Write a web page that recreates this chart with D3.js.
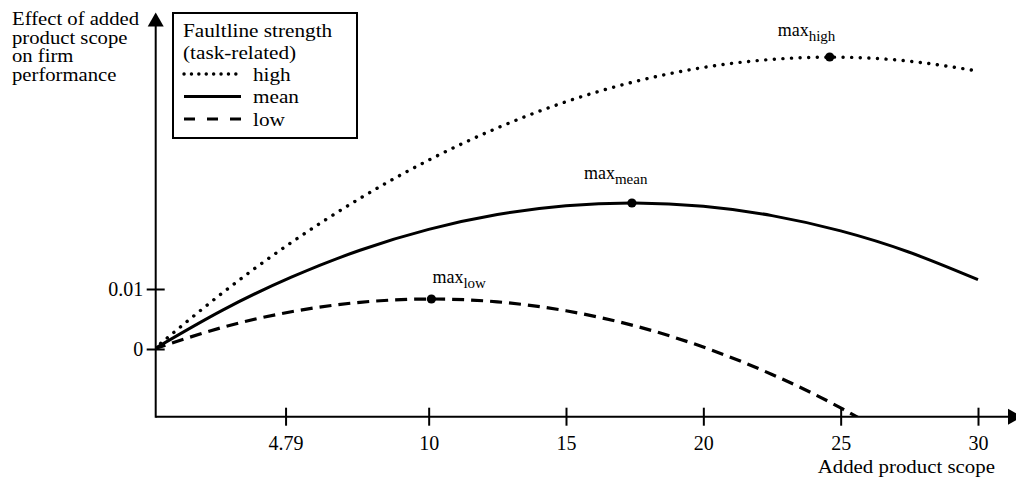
<!DOCTYPE html>
<html>
<head>
<meta charset="utf-8">
<script src="https://cdn.jsdelivr.net/npm/d3@7"></script>
<style>
  body { margin: 0; background: #fff; }
  svg { display: block; }
</style>
</head>
<body>
<svg id="chart" width="1016" height="481" font-family="Liberation Serif, Times New Roman, serif"></svg>
<script>
// values
let scope = [0, 2.5, 5, 7.5, 10, 12.5, 15, 17.5, 20, 22.5, 25, 27.5, 30];
let highY = [0, 0.00937, 0.01775, 0.02511, 0.03148, 0.03684, 0.04121, 0.04456, 0.04692, 0.04827, 0.04863, 0.04797, 0.04632];
let meanY = [0, 0.00649, 0.01197, 0.01646, 0.01993, 0.0224, 0.02387, 0.02433, 0.02378, 0.02223, 0.01968, 0.01612, 0.01155];
let lowY  = [0, 0.00361, 0.00621, 0.00778, 0.00833, 0.00786, 0.00637, 0.00386, 0.00032, -0.00424, -0.00981, -0.01641];
let levels = ["high", "mean", "low"];
let maxX = [24.6, 17.4, 10.1];
let maxY = [0.04867, 0.02433, 0.00833];
let xTicks = [4.79, 10, 15, 20, 25, 30];
let yTicks = [0, 0.01];

let serif = "Liberation Serif, Times New Roman, serif";
let styles = {
  high: {dash: "0.1,8.5", cap: "round", width: 3.4, legendDash: "0.1,7.3"},
  mean: {dash: null, cap: "butt", width: 3, legendDash: null},
  low:  {dash: "12,7", cap: "butt", width: 3.2, legendDash: "11,12"}
};
let labelOff = {high: [-52, -21], mean: [-48, -24], low: [1, -16]};

let svg = d3.select("#chart");
let x = d3.scaleLinear().domain([0, 30]).range([154, 978]);
let y = d3.scaleLinear().domain([0, 0.01]).range([349, 289]);
let axisY0 = 416.7, axisX0 = 155.7;

// clip so the low curve stops at the x axis
svg.append("clipPath").attr("id", "plot")
  .append("rect").attr("x", axisX0).attr("y", 0).attr("width", 900).attr("height", axisY0);

let series = {
  high: scope.map((s, i) => [s, highY[i]]),
  mean: scope.map((s, i) => [s, meanY[i]]),
  low: lowY.map((v, i) => [scope[i], v])
};

let line = d3.line().x(d => x(d[0])).y(d => y(d[1])).curve(d3.curveNatural);

let curves = svg.append("g").attr("clip-path", "url(#plot)");
levels.forEach(k => {
  curves.append("path")
    .attr("d", line(series[k]))
    .attr("fill", "none")
    .attr("stroke", "#000")
    .attr("stroke-width", styles[k].width)
    .attr("stroke-linecap", styles[k].cap)
    .attr("stroke-dasharray", styles[k].dash);
});

// axes
let xAxis = d3.axisBottom(x).tickValues(xTicks).tickSize(18).tickSizeOuter(0).tickFormat(d => d);
let gx = svg.append("g").attr("transform", `translate(0,${axisY0})`).call(xAxis);
gx.select(".domain").remove();
gx.selectAll(".tick line").attr("y1", -9).attr("y2", 9).attr("stroke-width", 2);
gx.selectAll(".tick text").attr("y", 33).attr("dy", 0)
  .attr("font-size", 20).attr("font-family", serif).attr("fill", "#000");

let yAxis = d3.axisLeft(y).tickValues(yTicks).tickSize(18).tickSizeOuter(0).tickFormat(d => d);
let gy = svg.append("g").attr("transform", `translate(${axisX0},0)`).call(yAxis);
gy.select(".domain").remove();
gy.selectAll(".tick line").attr("x1", -9).attr("x2", 9).attr("stroke-width", 2);
gy.selectAll(".tick text").attr("x", -12.5).attr("dy", "0.33em")
  .attr("font-size", 20).attr("font-family", serif).attr("fill", "#000");

svg.append("line").attr("x1", axisX0).attr("x2", 1009).attr("y1", axisY0).attr("y2", axisY0)
  .attr("stroke", "#000").attr("stroke-width", 2);
svg.append("line").attr("x1", axisX0).attr("x2", axisX0).attr("y1", axisY0 + 1).attr("y2", 25)
  .attr("stroke", "#000").attr("stroke-width", 2);
svg.append("path").attr("d", `M${axisX0},12.5 L${axisX0 - 8},26.5 L${axisX0 + 8},26.5 Z`);
svg.append("path").attr("d", `M1022,${axisY0} L1008,${axisY0 - 8} L1008,${axisY0 + 8} Z`);

// maxima
levels.forEach((k, i) => {
  let px = x(maxX[i]), py = y(maxY[i]);
  svg.append("circle").attr("cx", px).attr("cy", py).attr("r", 4.6);
  let t = svg.append("text")
    .attr("x", px + labelOff[k][0]).attr("y", py + labelOff[k][1])
    .attr("font-size", 18);
  t.append("tspan").text("max");
  t.append("tspan").attr("font-size", 15).attr("dy", 5).text(k);
});

// stretched text helper
function wideText(g, str, tx, ty, size, sx, anchor) {
  return g.append("text")
    .attr("transform", `translate(${tx},${ty}) scale(${sx},1)`)
    .attr("font-size", size)
    .attr("text-anchor", anchor || "start")
    .text(str);
}

// axis titles
["Effect of added", "product scope", "on firm", "performance"].forEach((s, i) => {
  wideText(svg, s, 12, 25 + i * 18.5, 18, 1.15);
});
wideText(svg, "Added product scope", 995, 473, 18, 1.16, "end");

// legend
let lg = svg.append("g");
lg.append("rect").attr("x", 173).attr("y", 13).attr("width", 184).attr("height", 125)
  .attr("fill", "#fff").attr("stroke", "#000").attr("stroke-width", 2);
wideText(lg, "Faultline strength", 183, 36.5, 18, 1.18);
wideText(lg, "(task-related)", 183, 59, 18, 1.18);
levels.forEach((k, i) => {
  let ly = 74 + i * 22.5;
  lg.append("line").attr("x1", 184).attr("x2", 241).attr("y1", ly).attr("y2", ly)
    .attr("stroke", "#000")
    .attr("stroke-width", styles[k].width)
    .attr("stroke-linecap", styles[k].cap)
    .attr("stroke-dasharray", styles[k].legendDash);
  wideText(lg, k, 253, ly + 6.5, 18, 1.18);
});
</script>
</body>
</html>
